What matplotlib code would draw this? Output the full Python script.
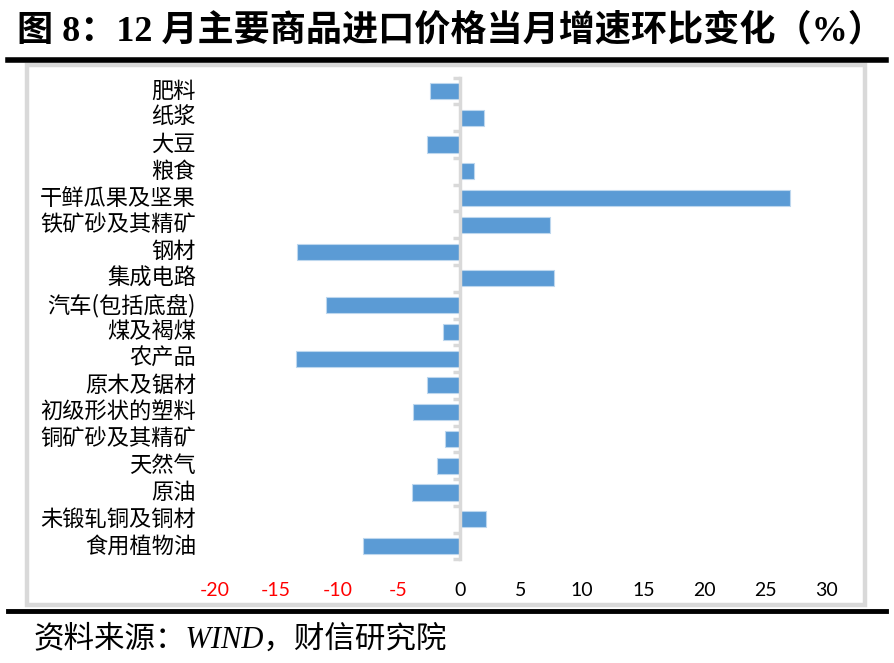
import matplotlib
matplotlib.use("Agg")
import matplotlib.pyplot as plt
from matplotlib.patches import Rectangle
from matplotlib.lines import Line2D
import matplotlib.transforms as mtransforms

categories = ["肥料", "纸浆", "大豆", "粮食", "干鲜瓜果及坚果", "铁矿砂及其精矿", "钢材",
              "集成电路", "汽车(包括底盘)", "煤及褐煤", "农产品", "原木及锯材",
              "初级形状的塑料", "铜矿砂及其精矿", "天然气", "原油", "未锻轧铜及铜材", "食用植物油"]
values = [-2.4, 2.0, -2.7, 1.2, 27.0, 7.4, -13.3, 7.7, -10.9, -1.4, -13.4, -2.7,
          -3.8, -1.25, -1.9, -3.9, 2.1, -7.9]
xticks = [-20, -15, -10, -5, 0, 5, 10, 15, 20, 25, 30]

W, H = 894, 663
fig = plt.figure(figsize=(W / 100, H / 100), dpi=100)

CJK = ["Noto Sans CJK SC", "DejaVu Sans"]
SERIF_CJK = ["Liberation Serif", "Noto Sans CJK SC"]

# Title
fig.text(17 / W, 1 - 31 / H, "图 8：12 月主要商品进口价格当月增速环比变化（%）",
         family=SERIF_CJK, fontweight="bold", fontsize=26, ha="left", va="center")
# Black rules
fig.add_artist(Line2D([8 / W, 886 / W], [1 - 59.5 / H, 1 - 59.5 / H], color="black", lw=4,
                      transform=fig.transFigure))
fig.add_artist(Line2D([8 / W, 886 / W], [1 - 610.5 / H, 1 - 610.5 / H], color="black", lw=3.5,
                      transform=fig.transFigure))
# Gray chart box
fig.add_artist(Rectangle((27 / W, 1 - 604.5 / H), (864.5 - 27) / W, (604.5 - 64.5) / H,
                         transform=fig.transFigure, fill=False, edgecolor="#d9d9d9", lw=3.2))
# Source
fig.text(33 / W, 1 - 640 / H, "资料来源：WIND，财信研究院", family=["Liberation Serif", "Noto Sans CJK SC"],
         style="italic", fontsize=22, ha="left", va="center")

# Axes
x0, x1 = 215, 827
y_top, y_bot = 77.6, 559.4
ax = fig.add_axes([x0 / W, 1 - y_bot / H, (x1 - x0) / W, (y_bot - y_top) / H])
n = len(categories)
pos = list(range(n))
ax.barh(pos, values, height=0.6, color="#5B9BD5", edgecolor="#BDD7EE", linewidth=0.8, zorder=2)
ax.set_xlim(xticks[0], xticks[-1])
ax.set_ylim(n - 0.5, -0.5)

for s in ["top", "right", "bottom"]:
    ax.spines[s].set_visible(False)
ax.spines["left"].set_position(("data", 0))
ax.spines["left"].set_color("#d9d9d9")
ax.spines["left"].set_linewidth(2.5)
ax.spines["left"].set_zorder(3)

ax.set_yticks([i - 0.5 for i in range(n + 1)])
ax.set_yticklabels([])
ax.tick_params(axis="y", length=5, width=2.5, color="#d9d9d9", direction="out")

ax.set_xticks(xticks)
ax.set_xticklabels([str(t) for t in xticks])
ax.tick_params(axis="x", length=0, pad=16)
for lbl, t in zip(ax.get_xticklabels(), xticks):
    lbl.set_fontfamily("Lato")
    lbl.set_fontsize(14)
    lbl.set_color("#FF0000" if t < 0 else "black")

trans = mtransforms.blended_transform_factory(ax.transAxes, ax.transData)
for i, c in enumerate(categories):
    ax.text((196 - x0) / (x1 - x0), i, c, transform=trans, ha="right", va="center",
            family=CJK, fontsize=16)

fig.savefig("out.png", dpi=100)
